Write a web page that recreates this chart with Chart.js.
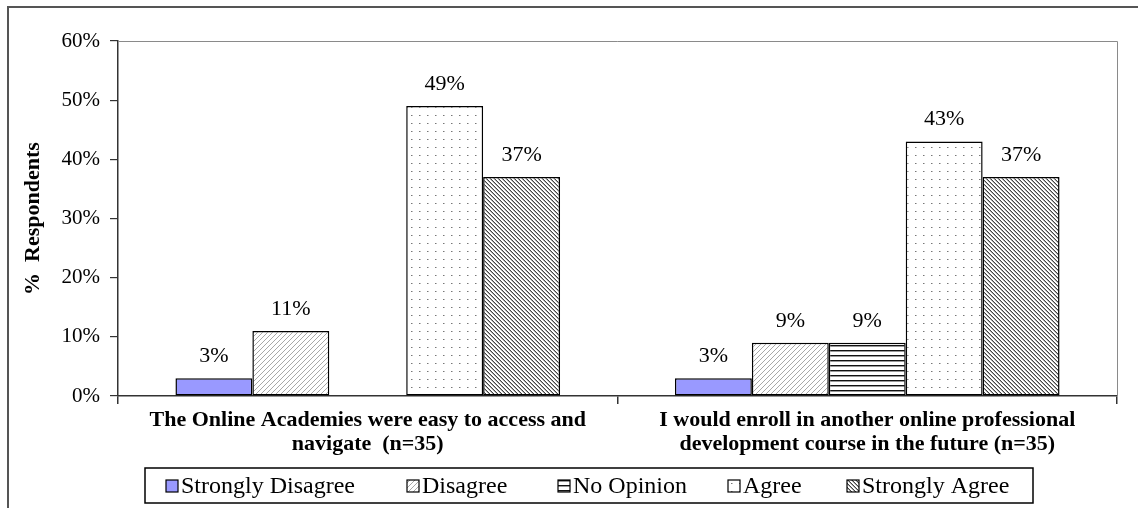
<!DOCTYPE html>
<html>
<head>
<meta charset="utf-8">
<script src="https://cdn.jsdelivr.net/npm/chart.js@4/dist/chart.umd.min.js"></script>
<style>
  body { margin: 0; background: #fff; }
  canvas { display: block; }
</style>
</head>
<body>
<canvas id="surveyChart" width="1138" height="508"></canvas>
<script>
const categories = [
  ["The Online Academies were easy to access and", "navigate  (n=35)"],
  ["I would enroll in another online professional", "development course in the future (n=35)"]
];
const seriesNames = ["Strongly Disagree", "Disagree", "No Opinion", "Agree", "Strongly Agree"];
const stronglyDisagree = [3, 3];
const disagree = [11, 9];
const noOpinion = [null, 9];
const agree = [49, 43];
const stronglyAgree = [37, 37];
const yMax = 60;
const yStep = 10;

const SERIF = "'Liberation Serif', 'Times New Roman', serif";
Chart.defaults.font.family = SERIF;
Chart.defaults.color = "#000";

// small tiles -> canvas patterns for the hatched bars
function makePattern(w, h, draw) {
  const tile = document.createElement("canvas");
  tile.width = w;
  tile.height = h;
  const g = tile.getContext("2d");
  g.fillStyle = "#fff";
  g.fillRect(0, 0, w, h);
  draw(g);
  return document.createElement("canvas").getContext("2d").createPattern(tile, "repeat");
}

const fwdHatch = makePattern(5, 5, g => {
  g.fillStyle = "#a8a8a8";
  for (let i = 0; i < 5; i++) g.fillRect(i, 4 - i, 1, 1);
});
const hLines = makePattern(8, 5, g => {
  g.fillStyle = "#111";
  g.fillRect(0, 0, 8, 1);
  g.fillStyle = "#999";
  g.fillRect(0, 1, 8, 1);
});
const dots = makePattern(8, 8, g => {
  g.fillStyle = "#777";
  g.fillRect(3, 3, 1, 1);
  g.fillStyle = "#bbb";
  g.fillRect(4, 3, 1, 1);
});
const backHatch = makePattern(4, 4, g => {
  for (let i = 0; i < 4; i++) {
    g.fillStyle = "#444";
    g.fillRect(i, i, 1, 1);
    g.fillStyle = "#aaa";
    g.fillRect(i, (i + 1) % 4, 1, 1);
  }
});

const fills = ["#9999ff", fwdHatch, hLines, dots, backHatch];
const seriesData = [stronglyDisagree, disagree, noOpinion, agree, stronglyAgree];

const valueLabels = {
  id: "valueLabels",
  afterDatasetsDraw(chart) {
    const ctx = chart.ctx;
    ctx.save();
    ctx.font = "22px " + SERIF;
    ctx.fillStyle = "#000";
    ctx.textAlign = "center";
    ctx.textBaseline = "middle";
    chart.data.datasets.forEach((ds, i) => {
      chart.getDatasetMeta(i).data.forEach((bar, j) => {
        const v = ds.data[j];
        if (v == null) return;
        ctx.fillText(v + "%", bar.x, bar.y - 22);
      });
    });
    ctx.restore();
  }
};

const frame = {
  id: "frame",
  afterDraw(chart) {
    const ctx = chart.ctx;
    const a = chart.chartArea;
    ctx.save();
    // outer frame (top + left)
    ctx.strokeStyle = "#555";
    ctx.lineWidth = 2;
    ctx.beginPath();
    ctx.moveTo(chart.width, 7);
    ctx.lineTo(8, 7);
    ctx.lineTo(8, chart.height);
    ctx.stroke();
    // plot area top + right edge
    ctx.strokeStyle = "#8a8a8a";
    ctx.lineWidth = 1;
    ctx.beginPath();
    ctx.moveTo(a.left, a.top + 0.5);
    ctx.lineTo(a.right + 0.5, a.top + 0.5);
    ctx.lineTo(a.right + 0.5, a.bottom);
    ctx.stroke();
    ctx.restore();
  }
};

// boxed legend like the original
const boxLegend = {
  id: "boxLegend",
  afterDraw(chart) {
    const ctx = chart.ctx;
    const markX = [166, 407, 558, 728, 847];
    const cy = 486;
    ctx.save();
    ctx.strokeStyle = "#000";
    ctx.lineWidth = 1.5;
    ctx.strokeRect(145, 468, 888, 35);
    ctx.font = "24px " + SERIF;
    ctx.textBaseline = "middle";
    ctx.fillStyle = "#000";
    seriesNames.forEach((name, i) => {
      const x = markX[i];
      ctx.fillStyle = fills[i];
      ctx.fillRect(x, cy - 6, 12, 12);
      ctx.lineWidth = 1.2;
      ctx.strokeRect(x, cy - 6, 12, 12);
      ctx.fillStyle = "#000";
      ctx.fillText(name, x + 15, cy + 1);
    });
    ctx.restore();
  }
};

new Chart(document.getElementById("surveyChart"), {
  type: "bar",
  data: {
    labels: categories,
    datasets: seriesNames.map((name, i) => ({
      label: name,
      data: seriesData[i],
      backgroundColor: fills[i],
      borderColor: "#000",
      borderWidth: 1.5,
      borderSkipped: false,
      categoryPercentage: 0.77,
      barPercentage: 1.0
    }))
  },
  options: {
    responsive: false,
    animation: false,
    layout: { padding: { left: 0, right: 21, top: 41, bottom: 40 } },
    plugins: {
      legend: { display: false },
      tooltip: { enabled: false }
    },
    scales: {
      x: {
        grid: { drawOnChartArea: false, tickLength: 8, color: "#333", lineWidth: 1.5, offset: true },
        border: { color: "#333", width: 1.5 },
        ticks: {
          color: "#000",
          font: { size: 22, weight: "bold", lineHeight: 1.1 },
          padding: 4,
          maxRotation: 0,
          autoSkip: false
        },
        afterFit: s => { s.height = 72; }
      },
      y: {
        min: 0,
        max: yMax,
        ticks: {
          stepSize: yStep,
          callback: v => v + "%",
          color: "#000",
          font: { size: 21 },
          padding: 10
        },
        grid: { drawOnChartArea: false, tickLength: 8, color: "#333", lineWidth: 1.2 },
        border: { color: "#333", width: 1.5 },
        title: {
          display: true,
          text: "%  Respondents",
          color: "#000",
          font: { size: 22, weight: "bold" },
          padding: { top: 20, bottom: 0 }
        },
        afterFit: s => { s.width = 118; }
      }
    }
  },
  plugins: [valueLabels, frame, boxLegend]
});
</script>
</body>
</html>
